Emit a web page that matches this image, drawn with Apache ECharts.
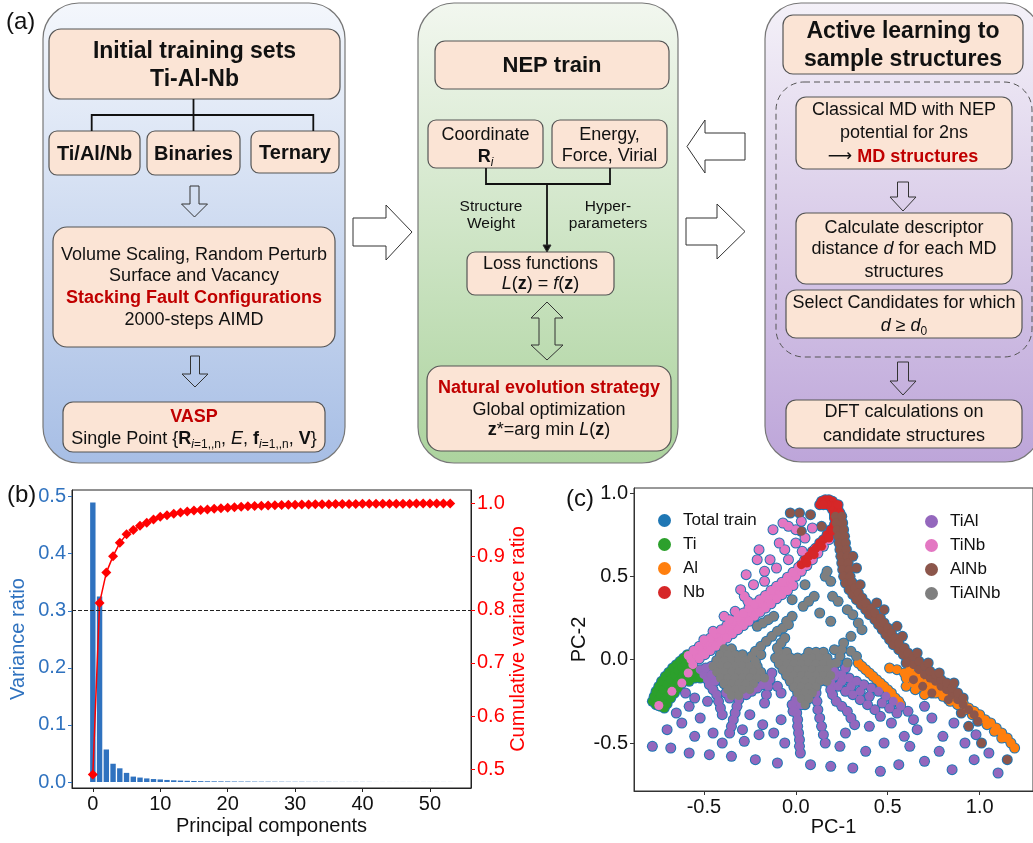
<!DOCTYPE html>
<html><head><meta charset="utf-8">
<script src="https://cdn.jsdelivr.net/npm/echarts@6/dist/echarts.min.js"></script>
<style>html,body{margin:0;padding:0;background:#fff}#c{width:1033px;height:843px}</style>
</head><body><div id="c"></div>
<script>
const FF = '"Liberation Sans", Arial, sans-serif';

// ---------- panel (b) data ----------
const pcIndex = [0,1,2,3,4,5,6,7,8,9,10,11,12,13,14,15,16,17,18,19,20,21,22,23,24,25,26,27,28,29,30,31,32,33,34,35,36,37,38,39,40,41,42,43,44,45,46,47,48,49,50,51,52,53];
const varianceRatio = [0.490,0.325,0.057,0.032,0.024,0.016,0.0095,0.0078,0.0063,0.0052,0.0045,0.0036,0.0030,0.0025,0.0021,0.0018,0.0015,0.0013,0.0012,0.0011,0.0010,0.0009,0.0008,0.0008,0.0007,0.0006,0.0006,0.0005,0.0005,0.0004,0.0004,0.0004,0.0003,0.0003,0.0003,0.0003,0.0002,0.0002,0.0002,0.0002,0.0002,0.0002,0.0001,0.0001,0.0001,0.0001,0.0001,0.0001,0.0001,0.0001,0.0001,0.0001,0.0001,0.0001];
const cumulativeRatio = [0.490,0.813,0.870,0.901,0.926,0.942,0.950,0.958,0.964,0.970,0.975,0.978,0.981,0.983,0.985,0.987,0.988,0.989,0.990,0.991,0.992,0.993,0.994,0.995,0.9955,0.996,0.9965,0.997,0.9973,0.9976,0.9979,0.9981,0.9983,0.9985,0.9987,0.9989,0.9990,0.9991,0.9992,0.9993,0.9994,0.9995,0.9996,0.9996,0.9997,0.9997,0.9998,0.9998,0.9999,0.9999,0.9999,1.0,1.0,1.0];
const cumThreshold = 0.8;
const bXTicks = [0,10,20,30,40,50];
const bLeftTicks = [0,0.1,0.2,0.3,0.4,0.5];
const bRightTicks = [0.5,0.6,0.7,0.8,0.9,1.0];

// ---------- panel (c) data ----------
const cTicks = [-0.5,0,0.5,1.0];
const tiPts = [[-0.78,-0.25],[-0.77,-0.22],[-0.76,-0.19],[-0.745,-0.16],[-0.73,-0.13],[-0.71,-0.10],[-0.69,-0.075],[-0.67,-0.05],[-0.65,-0.03],[-0.63,-0.01],[-0.61,0.01],[-0.59,0.03],
[-0.76,-0.27],[-0.75,-0.24],[-0.735,-0.21],[-0.72,-0.18],[-0.70,-0.15],[-0.68,-0.12],[-0.66,-0.09],[-0.64,-0.065],[-0.62,-0.045],[-0.60,-0.025],[-0.58,-0.005],[-0.565,0.015],
[-0.735,-0.28],[-0.72,-0.25],[-0.70,-0.22],[-0.68,-0.19],[-0.66,-0.16],[-0.64,-0.13],[-0.62,-0.10],[-0.60,-0.08],[-0.58,-0.06],[-0.56,-0.04],[-0.545,-0.06],[-0.53,-0.09],[-0.55,-0.11],[-0.57,-0.09],
[-0.70,-0.265],[-0.68,-0.23],[-0.66,-0.20],[-0.64,-0.17],[-0.62,-0.14],[-0.60,-0.12],[-0.715,-0.29],[-0.52,-0.11],[-0.58,-0.13]];
const alPts = [[0.34,-0.02],[0.36,-0.04],[0.38,-0.06],[0.40,-0.08],[0.42,-0.10],[0.44,-0.12],[0.46,-0.14],[0.48,-0.16],[0.50,-0.18],[0.52,-0.20],[0.54,-0.23],[0.56,-0.25],[0.57,-0.27],
[0.51,-0.05],[0.55,-0.06],[0.59,-0.08],[0.63,-0.10],[0.67,-0.12],[0.71,-0.14],[0.75,-0.16],[0.79,-0.18],[0.83,-0.21],[0.87,-0.24],[0.91,-0.26],[0.94,-0.29],[0.97,-0.31],[1.00,-0.33],[1.03,-0.36],[1.06,-0.38],[1.09,-0.41],[1.12,-0.44],[1.15,-0.47],[1.17,-0.50],[1.19,-0.53],
[0.60,-0.11],[0.64,-0.14],[0.68,-0.16],[0.72,-0.18],[0.76,-0.20],[0.80,-0.22],[0.84,-0.25],[0.88,-0.27],[0.92,-0.30],[0.96,-0.33],[1.00,-0.36],[1.04,-0.39],[1.08,-0.43],[1.12,-0.47],
[0.60,-0.16],[0.65,-0.18],[0.70,-0.21],[0.62,-0.06],[0.66,-0.09]];
const nbPts = [[0.03,0.57],[0.05,0.60],[0.07,0.62],[0.09,0.65],[0.11,0.67],[0.13,0.70],[0.15,0.72],[0.17,0.75],[0.19,0.78],[0.21,0.81],[0.06,0.58],[0.10,0.63],[0.14,0.68],[0.18,0.73],[0.20,0.77],[0.22,0.80],
[0.22,0.84],[0.23,0.87],[0.23,0.90],[0.22,0.93],[0.20,0.95],[0.18,0.96],[0.16,0.96],[0.14,0.95],[0.13,0.93],[0.21,0.87],[0.20,0.90],[0.19,0.92],[0.17,0.93],[0.15,0.93],[0.21,0.85],[0.24,0.88],[0.23,0.93]];
const tiAlPts = [[-0.52,-0.06],[-0.50,-0.09],[-0.48,-0.12],[-0.46,-0.09],[-0.47,-0.15],[-0.45,-0.18],[-0.43,-0.21],[-0.42,-0.25],[-0.41,-0.29],[-0.40,-0.33],[-0.44,-0.13],[-0.49,-0.05],[-0.46,-0.04],
[-0.30,-0.20],[-0.31,-0.24],[-0.32,-0.28],[-0.33,-0.32],[-0.34,-0.36],[-0.35,-0.40],[-0.36,-0.44],[-0.27,-0.21],[-0.24,-0.19],[-0.21,-0.17],[-0.18,-0.15],[-0.38,-0.20],[-0.36,-0.23],
[-0.13,-0.08],[-0.14,-0.12],[-0.15,-0.16],[-0.16,-0.21],[-0.17,-0.26],[-0.10,-0.16],[-0.08,-0.20],
[0.0,-0.24],[0.0,-0.28],[0.005,-0.32],[0.01,-0.36],[0.01,-0.40],[0.015,-0.44],[0.02,-0.48],[0.02,-0.52],[0.025,-0.56],[-0.02,-0.27],[-0.015,-0.31],[0.03,-0.27],
[0.17,-0.05],[0.21,-0.07],[0.25,-0.09],[0.29,-0.11],[0.33,-0.13],[0.37,-0.15],[0.41,-0.17],[0.45,-0.19],[0.49,-0.22],[0.53,-0.25],[0.57,-0.28],[0.61,-0.31],
[0.15,-0.12],[0.19,-0.14],[0.23,-0.16],[0.27,-0.19],[0.31,-0.21],[0.35,-0.24],[0.39,-0.27],[0.43,-0.30],
[0.20,-0.21],[0.22,-0.25],[0.25,-0.28],[0.28,-0.31],[0.30,-0.35],[0.32,-0.39],
[0.11,-0.20],[0.115,-0.25],[0.12,-0.30],[0.13,-0.35],[0.14,-0.40],[0.15,-0.45],[0.16,-0.50],
[0.25,-0.13],[0.30,-0.16],[0.35,-0.19],[0.40,-0.22],[0.21,-0.10],[0.22,-0.02],[0.19,-0.18],[0.27,-0.05],[0.47,-0.26],[0.51,-0.29],[0.55,-0.32],
[-0.78,-0.52],[-0.68,-0.53],[-0.58,-0.56],[-0.47,-0.57],[-0.35,-0.58],[-0.22,-0.60],[-0.10,-0.62],[0.08,-0.63],[0.19,-0.64],[0.31,-0.65],[0.46,-0.67],[0.56,-0.63],[0.70,-0.61],[0.85,-0.66],[1.10,-0.68],[0.97,-0.60],
[-0.70,-0.42],[-0.62,-0.38],[-0.55,-0.46],[-0.45,-0.44],[-0.28,-0.49],[-0.20,-0.45],[-0.06,-0.50],[0.24,-0.52],[0.38,-0.55],[0.48,-0.50],[0.62,-0.52],[0.78,-0.55],[0.92,-0.50],[1.05,-0.56],
[-0.65,-0.32],[-0.58,-0.28],[-0.52,-0.35],[-0.48,-0.25],[-0.25,-0.33],[-0.18,-0.39],[-0.08,-0.36],[0.40,-0.40],[0.52,-0.38],[0.66,-0.42],[0.74,-0.35],[0.86,-0.38],[0.98,-0.45],[0.80,-0.46],
[-0.60,-0.20],[-0.55,-0.23],[-0.29,-0.42],[0.46,-0.34],[0.59,-0.46],[0.70,-0.28],[-0.12,-0.44],[0.27,-0.44],[-0.40,-0.50],[0.64,-0.36]];
const tiNbPts = [[-0.745,-0.275],[-0.674,-0.19],[-0.62,-0.14],[-0.585,-0.08],[-0.56,-0.03],
[-0.57,0.0],[-0.54,0.03],[-0.51,0.055],[-0.48,0.08],[-0.45,0.105],[-0.42,0.13],[-0.39,0.155],[-0.36,0.18],[-0.33,0.205],[-0.30,0.23],[-0.27,0.255],[-0.24,0.285],[-0.21,0.31],[-0.18,0.335],[-0.15,0.36],[-0.12,0.39],[-0.09,0.415],[-0.06,0.44],[-0.03,0.47],[0.0,0.50],[0.03,0.53],[0.06,0.565],[0.09,0.60],[0.12,0.64],[0.15,0.68],[0.18,0.72],
[-0.585,0.025],[-0.555,0.055],[-0.525,0.08],[-0.495,0.105],[-0.465,0.13],[-0.435,0.155],[-0.405,0.18],[-0.375,0.205],[-0.345,0.23],[-0.315,0.255],[-0.285,0.28],[-0.255,0.31],[-0.225,0.335],[-0.195,0.36],[-0.165,0.385],[-0.135,0.415],[-0.105,0.44],[-0.075,0.465],[-0.045,0.495],[-0.015,0.525],[0.015,0.555],[0.045,0.59],[0.075,0.625],[0.105,0.665],
[-0.525,0.005],[-0.495,0.03],[-0.465,0.055],[-0.435,0.08],[-0.405,0.105],[-0.375,0.13],[-0.345,0.155],[-0.315,0.18],[-0.285,0.205],[-0.255,0.23],[-0.225,0.26],[-0.195,0.285],[-0.165,0.31],[-0.135,0.335],[-0.105,0.365],[-0.075,0.39],[-0.045,0.415],[-0.015,0.445],
[-0.124,0.78],[-0.04,0.80],[0.0,0.78],[-0.09,0.70],[0.0,0.70],[-0.21,0.60],[-0.14,0.60],[-0.105,0.55],[-0.04,0.60],[0.035,0.65],[-0.30,0.42],[-0.23,0.45],[-0.17,0.47],[-0.39,0.26],[-0.33,0.29],[-0.26,0.35],[-0.45,0.17],[-0.36,0.24],[0.05,0.73],[0.09,0.79],[-0.06,0.66],[-0.17,0.53],[-0.28,0.38],[0.03,0.83],[-0.07,0.82],[-0.20,0.66],[-0.50,0.12],[-0.27,0.51]];
const alNbPts = [[0.215,0.86],[0.22,0.82],[0.225,0.78],[0.23,0.74],[0.235,0.70],[0.24,0.66],[0.245,0.62],[0.25,0.58],[0.255,0.54],[0.26,0.50],[0.27,0.46],[0.29,0.42],[0.31,0.39],[0.33,0.36],[0.355,0.33],[0.38,0.30],[0.40,0.27],[0.43,0.24],[0.45,0.21],[0.47,0.18],[0.49,0.15],[0.51,0.12],[0.53,0.09],[0.56,0.06],[0.585,0.03],[0.61,0.0],[0.64,-0.03],[0.67,-0.06],[0.70,-0.09],[0.73,-0.11],[0.76,-0.13],[0.79,-0.16],[0.82,-0.18],[0.85,-0.21],[0.88,-0.24],[0.91,-0.27],[0.94,-0.30],[0.97,-0.33],[0.99,-0.37],
[0.25,0.86],[0.255,0.82],[0.26,0.78],[0.265,0.74],[0.27,0.70],[0.275,0.66],[0.28,0.62],[0.285,0.58],[0.29,0.54],[0.295,0.50],[0.305,0.465],[0.32,0.43],[0.34,0.40],[0.36,0.37],[0.38,0.34],[0.41,0.31],[0.43,0.28],[0.46,0.25],[0.48,0.22],[0.50,0.19],[0.52,0.16],[0.54,0.13],[0.56,0.10],[0.59,0.07],[0.61,0.04],[0.64,0.02],[0.67,-0.01],[0.70,-0.04],[0.73,-0.07],[0.76,-0.09],[0.79,-0.12],[0.82,-0.14],[0.85,-0.17],[0.88,-0.20],[0.91,-0.23],
[-0.03,0.88],[0.02,0.88],[0.08,0.87],[0.03,0.77],[0.14,0.80],[0.31,0.62],[0.33,0.55],[0.35,0.45],[0.44,0.34],[0.48,0.30],[0.55,0.20],[0.58,0.14],[0.64,-0.12],[0.69,-0.16],[0.74,-0.20],[0.83,-0.24],[0.90,-0.32],[0.94,-0.40],[1.01,-0.50],[1.15,-0.60],[0.78,-0.08],[0.86,-0.14],[0.60,-0.02],[0.66,0.04],[0.72,-0.02]];
const tiAlNbPts = [[-0.39,0.065],[-0.35,0.065],
[-0.41,0.03],[-0.37,0.03],[-0.33,0.03],[-0.29,0.03],
[-0.43,-0.005],[-0.39,-0.005],[-0.35,-0.005],[-0.31,-0.005],[-0.27,-0.005],
[-0.45,-0.04],[-0.41,-0.04],[-0.37,-0.04],[-0.33,-0.04],[-0.29,-0.04],[-0.25,-0.04],[-0.21,-0.04],
[-0.43,-0.075],[-0.39,-0.075],[-0.35,-0.075],[-0.31,-0.075],[-0.27,-0.075],[-0.23,-0.075],[-0.19,-0.075],
[-0.41,-0.11],[-0.37,-0.11],[-0.33,-0.11],[-0.29,-0.11],[-0.25,-0.11],[-0.21,-0.11],[-0.17,-0.11],
[-0.39,-0.145],[-0.35,-0.145],[-0.31,-0.145],[-0.27,-0.145],[-0.23,-0.145],
[-0.37,-0.18],[-0.33,-0.18],[-0.29,-0.18],[-0.25,-0.18],
[-0.35,-0.215],[-0.31,-0.215],
[-0.24,0.02],[-0.22,0.05],[-0.19,0.08],[-0.16,0.11],[-0.13,0.14],[-0.10,0.17],[-0.07,0.19],[-0.04,0.21],[-0.22,-0.01],[-0.19,0.03],
[-0.09,0.045],[-0.05,0.045],[0.07,0.045],[0.11,0.045],[0.15,0.045],
[-0.11,0.01],[-0.07,0.01],[-0.03,0.01],[0.01,0.01],[0.05,0.01],[0.09,0.01],[0.13,0.01],[0.17,0.01],
[-0.09,-0.025],[-0.05,-0.025],[-0.01,-0.025],[0.03,-0.025],[0.07,-0.025],[0.11,-0.025],[0.15,-0.025],[0.19,-0.025],
[-0.07,-0.06],[-0.03,-0.06],[0.01,-0.06],[0.05,-0.06],[0.09,-0.06],[0.13,-0.06],[0.17,-0.06],
[-0.05,-0.095],[-0.01,-0.095],[0.03,-0.095],[0.07,-0.095],[0.11,-0.095],[0.15,-0.095],[0.19,-0.095],
[-0.03,-0.13],[0.01,-0.13],[0.05,-0.13],[0.09,-0.13],[0.13,-0.13],[0.17,-0.13],
[-0.01,-0.165],[0.03,-0.165],[0.07,-0.165],[0.11,-0.165],
[0.01,-0.20],[0.05,-0.20],[0.09,-0.20],
[0.03,-0.235],[0.07,-0.235],[0.05,-0.27],
[-0.10,0.07],[-0.08,0.10],[-0.06,0.13],
[-0.21,0.20],[-0.18,0.22],[-0.15,0.24],[-0.12,0.26],
[-0.05,0.23],[-0.02,0.26],[0.04,0.32],[0.07,0.35],[0.10,0.38],
[0.16,0.50],[0.17,0.53],[0.19,0.47],
[0.20,0.38],[0.23,0.35],[0.28,0.30],[0.31,0.27],[0.34,0.22],[0.36,0.18],[0.26,0.10],[0.25,0.06],[0.24,0.02],[0.22,-0.02],[0.30,0.14],[0.13,0.28],[0.19,0.23],[-0.02,0.36],[0.05,0.45],[0.30,0.05],[0.33,0.02],[0.21,0.06],[0.28,-0.02]];

const groupNames = ['Ti','Al','Nb','TiAl','TiNb','AlNb','TiAlNb'];
const groupColors = ['#2ca02c','#ff7f0e','#d62728','#9467bd','#e377c2','#8c564b','#7f7f7f'];
const groupPts = [tiPts, alPts, nbPts, tiAlPts, tiNbPts, alNbPts, tiAlNbPts];
const drawOrder = [0,1,3,4,2,5,6];

// ---------- flowchart (graphic) ----------
const G = [];
const PEACH = '#fbe4d5', EDGE = '#555', RED = '#c00000';
function grad(c0, c1){ return {type:'linear',x:0,y:0,x2:0,y2:1,colorStops:[{offset:0,color:c0},{offset:1,color:c1}]}; }
function box(x,y,w,h,r,fill,stroke,lw,dash){ G.push({type:'rect',shape:{x:x,y:y,width:w,height:h,r:r},style:{fill:fill||PEACH,stroke:stroke||EDGE,lineWidth:lw||1.2,lineDash:dash||null},z:1}); }
const RICH = {
  b:{font:'bold 18px '+FF}, it:{font:'italic 18px '+FF},
  sub:{font:'italic 12px '+FF, verticalAlign:'bottom', lineHeight:12},
  sub2:{font:'12px '+FF, verticalAlign:'bottom', lineHeight:12},
  r:{font:'bold 18px '+FF, fill:RED},
  arr:{font:'17px "DejaVu Sans", sans-serif'}
};
function txt(x,y,s,font,fill,align){ G.push({type:'text',z:5,style:{x:x,y:y,text:s,font:font||('18px '+FF),fill:fill||'#111',align:align||'center',verticalAlign:'middle',textAlign:align||'center',textVerticalAlign:'middle',rich:RICH,lineHeight:24}}); }
function poly(pts, fill, lw){ G.push({type:'polygon',z:3,shape:{points:pts},style:{fill:fill||'none',stroke:'#333',lineWidth:lw||1}}); }
function pline(pts, lw){ G.push({type:'polyline',z:3,shape:{points:pts},style:{stroke:'#111',lineWidth:lw||1.8,fill:'none'}}); }
function arrowDown(cx,y0,y1,sw,hw,hh){ poly([[cx-sw/2,y0],[cx+sw/2,y0],[cx+sw/2,y1-hh],[cx+hw/2,y1-hh],[cx,y1],[cx-hw/2,y1-hh],[cx-sw/2,y1-hh]],'none',1); }
const B23 = 'bold 23px '+FF, B22 = 'bold 22px '+FF, B20 = 'bold 20px '+FF, B18 = 'bold 18px '+FF, R18 = '18px '+FF, R15 = '15.5px '+FF;

// panel labels
txt(6,22,'(a)','24px '+FF,'#111','left');
txt(7,495,'(b)','24px '+FF,'#111','left');
txt(566,499,'(c)','24px '+FF,'#111','left');

// left column
box(43,3,302,460,36,grad('#f4f7fc','#a7bee5'),'#777',1.2);
box(49,29,291,70,12);
txt(194.5,52,'Initial training sets',B23); txt(194.5,80,'Ti-Al-Nb',B23);
pline([[193.5,99],[193.5,131]]); pline([[91.7,131],[91.7,115],[313.3,115],[313.3,131]]);
box(49,131,91,44,8); box(147,131,93,44,8); box(251,131,88,42,8);
txt(94.5,154,'Ti/Al/Nb',B20); txt(193.5,154,'Binaries',B20); txt(295,153,'Ternary',B20);
arrowDown(194.5,186,217,9,26,13);
box(53,227,282,120,14);
txt(194,255,'Volume Scaling, Random Perturb'); txt(194,276,'Surface and Vacancy');
txt(194,298,'Stacking Fault Configurations',B18,RED); txt(194,320,'2000-steps AIMD');
arrowDown(195,356,387,9,26,13);
box(63,402,262,50,10);
txt(194,417,'VASP',B18,RED);
txt(194,439,'Single Point {{b|R}{sub|i}{sub2|=1,,n}, {it|E}, {b|f}{sub|i}{sub2|=1,,n}, {b|V}}');

// middle column
box(418,3,260,460,36,grad('#f2f7ef','#acd39e'),'#777',1.2);
box(435,41,234,48,10); txt(552,66,'NEP train',B22);
box(428,120,115,48,8); txt(485.5,135,'Coordinate'); txt(485.5,157,'{b|R}{sub|i}');
box(552,120,115,48,8); txt(609.5,135,'Energy,'); txt(609.5,156,'Force, Virial');
pline([[486,168],[486,184],[610,184],[610,168]]); pline([[547,184],[547,246]]);
poly([[543,245],[551,245],[547,252]],'#111',1);
txt(491,207,'Structure',R15); txt(491,224,'Weight',R15); txt(608,207,'Hyper-',R15); txt(608,224,'parameters',R15);
box(467,252,147,43,8); txt(540.5,264,'Loss functions'); txt(540.5,284,'{it|L}({b|z}) = {it|f}({b|z})');
poly([[547,302],[563,318],[555,318],[555,345],[563,345],[547,360],[531,345],[539,345],[539,318],[531,318]],'none',1);
box(427,366,244,85,14);
txt(549,388,'Natural evolution strategy',B18,RED); txt(549,410,'Global optimization'); txt(549,430,'{b|z}*=arg min {it|L}({b|z})');

// right column
box(765,3,276,459,36,grad('#f4f1f8','#bda5d9'),'#777',1.2);
box(783,15,240,59,10); txt(903,32,'Active learning to',B23); txt(903,60,'sample structures',B23);
box(776,82,256,275,28,'none','#555',1,[6,4]);
box(796,97,216,72,10); txt(904,110,'Classical MD with NEP'); txt(904,133,'potential for 2ns'); txt(903,157,'{arr|⟶} {r|MD structures}');
arrowDown(903,182,211,11,26,14);
box(796,213,216,71,10); txt(904,228,'Calculate descriptor'); txt(904,249,'distance {it|d} for each MD'); txt(904,272,'structures');
box(786,290,236,48,10); txt(904,303,'Select Candidates for which'); txt(904,326,'{it|d} ≥ {it|d}{sub2|0}');
arrowDown(903,362,395,11,26,14);
box(786,400,236,48,10); txt(904,412,'DFT calculations on'); txt(904,436,'candidate structures');

// big arrows between columns
poly([[353,218],[386,218],[386,205],[412,232],[386,260],[386,246],[353,246]],'#fff',1);
poly([[687,146.5],[705,120],[705,133],[745,133],[745,160],[705,160],[705,173]],'#fff',1);
poly([[686,218],[717,218],[717,204],[745,231.5],[717,259],[717,245],[686,245]],'#fff',1);

// ---------- chart options ----------
const BLUE = '#2f72bf';
const totalTrain = [].concat(tiPts, alPts, nbPts, tiAlPts, tiNbPts, alNbPts, tiAlNbPts);
const series = [
  {name:'Variance', type:'bar', xAxisIndex:0, yAxisIndex:0, data:pcIndex.map((p,i)=>[p,varianceRatio[i]]), barWidth:5.4, itemStyle:{color:BLUE}, z:2},
  {name:'Cumulative', type:'line', xAxisIndex:0, yAxisIndex:1, data:pcIndex.map((p,i)=>[p,cumulativeRatio[i]]), symbol:'diamond', symbolSize:10,
   itemStyle:{color:'#ff0000'}, lineStyle:{color:'#ff0000', width:1.5}, z:4,
   markLine:{silent:true, symbol:['none','none'], label:{show:false}, lineStyle:{type:[4,2], color:'#222', width:1}, data:[{yAxis:cumThreshold}]}},
  {name:'Total train', type:'scatter', xAxisIndex:1, yAxisIndex:2, data:totalTrain, symbolSize:11, itemStyle:{color:'#1f77b4', opacity:1}, z:2}
];
drawOrder.forEach(function(g, k){
  series.push({name:groupNames[g], type:'scatter', xAxisIndex:1, yAxisIndex:2, data:groupPts[g], symbolSize:9, itemStyle:{color:groupColors[g], opacity:1}, z:3+k*0.01});
});

const axText = {fontSize:20, fontFamily:FF, color:'#111'};
const fmt1 = v => (Math.round(v*10)/10).toFixed(1);
const option = {
  animation:false,
  backgroundColor:'#fff',
  graphic:{elements:G},
  grid:[
    {left:72, top:490, width:399, height:298, show:true, borderColor:'#222', borderWidth:1},
    {left:634, top:488, width:408, height:303, show:true, borderColor:'#333', borderWidth:1}
  ],
  legend:[
    {data:['Total train','Ti','Al','Nb'], left:653, top:507, orient:'vertical', icon:'circle', itemWidth:13, itemHeight:13, itemGap:7, selectedMode:false,
     textStyle:{fontSize:17, fontFamily:FF, color:'#111', padding:[0,0,0,7]}},
    {data:['TiAl','TiNb','AlNb','TiAlNb'], left:920, top:508, orient:'vertical', icon:'circle', itemWidth:13, itemHeight:13, itemGap:7, selectedMode:false,
     textStyle:{fontSize:17, fontFamily:FF, color:'#111', padding:[0,0,0,7]}}
  ],
  xAxis:[
    {gridIndex:0, type:'value', min:-3.09, max:56.09, splitLine:{show:false},
     axisLine:{show:true, onZero:false, lineStyle:{color:'#222'}}, axisTick:{show:true, length:4, customValues:bXTicks, lineStyle:{color:'#222'}},
     axisLabel:Object.assign({customValues:bXTicks, margin:6}, axText),
     name:'Principal components', nameLocation:'middle', nameGap:28, nameTextStyle:axText},
    {gridIndex:1, type:'value', min:-0.88, max:1.29, splitLine:{show:false},
     axisLine:{show:true, onZero:false, lineStyle:{color:'#333'}}, axisTick:{show:true, length:4, customValues:cTicks, lineStyle:{color:'#333'}},
     axisLabel:Object.assign({customValues:cTicks, margin:6, formatter:fmt1}, axText),
     name:'PC-1', nameLocation:'middle', nameGap:24, nameTextStyle:axText}
  ],
  yAxis:[
    {gridIndex:0, type:'value', position:'left', min:-0.0105, max:0.5117, splitLine:{show:false},
     axisLine:{show:true, onZero:false, lineStyle:{color:'#222'}}, axisTick:{show:true, length:4, customValues:bLeftTicks, lineStyle:{color:BLUE}},
     axisLabel:{customValues:bLeftTicks, margin:6, formatter:fmt1, fontSize:20, fontFamily:FF, color:BLUE},
     name:'Variance ratio', nameLocation:'middle', nameGap:44, nameTextStyle:{fontSize:20, fontFamily:FF, color:BLUE}},
    {gridIndex:0, type:'value', position:'right', min:0.4645, max:1.0255, splitLine:{show:false},
     axisLine:{show:true, onZero:false, lineStyle:{color:'#222'}}, axisTick:{show:true, length:4, customValues:bRightTicks, lineStyle:{color:'#ff0000'}},
     axisLabel:{customValues:bRightTicks, margin:6, formatter:fmt1, fontSize:20, fontFamily:FF, color:'#ff0000'},
     name:'Cumulative variance ratio', nameLocation:'middle', nameGap:36, nameTextStyle:{fontSize:20, fontFamily:FF, color:'#ff0000'}},
    {gridIndex:1, type:'value', min:-0.788, max:1.03, splitLine:{show:false},
     axisLine:{show:true, onZero:false, lineStyle:{color:'#333'}}, axisTick:{show:true, length:4, customValues:cTicks, lineStyle:{color:'#333'}},
     axisLabel:Object.assign({customValues:cTicks, margin:6, formatter:fmt1}, axText),
     name:'PC-2', nameLocation:'middle', nameGap:44, nameTextStyle:axText}
  ],
  series:series
};
const chart = echarts.init(document.getElementById('c'), null, {renderer:'canvas'});
chart.setOption(option);
</script>
</body></html>
